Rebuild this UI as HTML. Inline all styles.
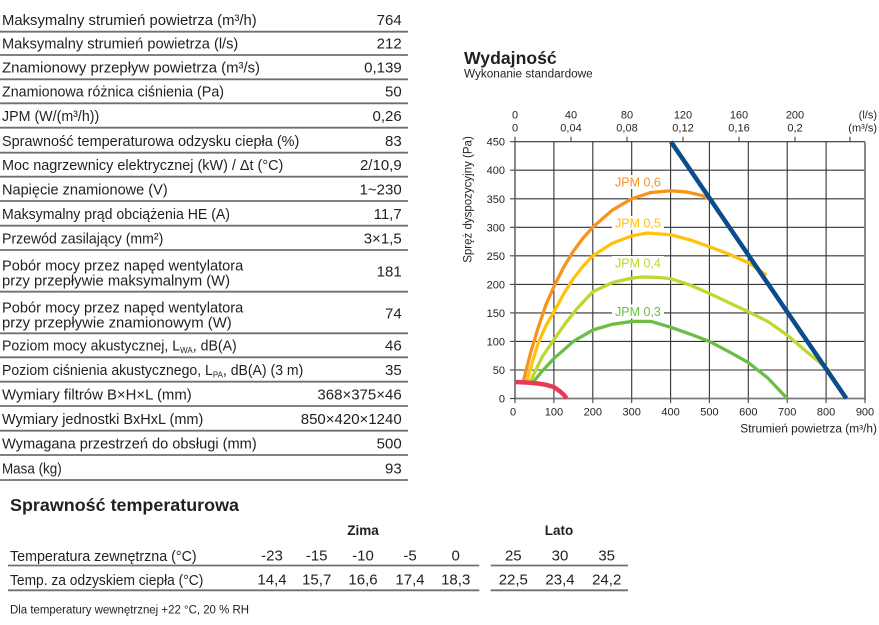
<!DOCTYPE html>
<html>
<head>
<meta charset="utf-8">
<style>
html,body{margin:0;padding:0;background:#fff;}
body{width:879px;height:625px;overflow:hidden;}
svg{display:block;}
text{font-family:"Liberation Sans",Arial,sans-serif;fill:#231f20;}
</style>
</head>
<body>
<svg width="879" height="625" viewBox="0 0 879 625" xmlns="http://www.w3.org/2000/svg">
<rect width="879" height="625" fill="#fff"/>

<!-- ===== TOP TABLE ===== -->
<g stroke="#707070" stroke-width="1.8">
<line x1="0" y1="31.7" x2="408" y2="31.7"/>
<line x1="0" y1="55" x2="408" y2="55"/>
<line x1="0" y1="79.3" x2="408" y2="79.3"/>
<line x1="0" y1="103.3" x2="408" y2="103.3"/>
<line x1="0" y1="127.7" x2="408" y2="127.7"/>
<line x1="0" y1="152.7" x2="408" y2="152.7"/>
<line x1="0" y1="176.7" x2="408" y2="176.7"/>
<line x1="0" y1="201" x2="408" y2="201"/>
<line x1="0" y1="225.7" x2="408" y2="225.7"/>
<line x1="0" y1="250" x2="408" y2="250"/>
<line x1="0" y1="291.7" x2="408" y2="291.7"/>
<line x1="0" y1="333.3" x2="408" y2="333.3"/>
<line x1="0" y1="357.3" x2="408" y2="357.3"/>
<line x1="0" y1="381.7" x2="408" y2="381.7"/>
<line x1="0" y1="406" x2="408" y2="406"/>
<line x1="0" y1="430.7" x2="408" y2="430.7"/>
<line x1="0" y1="455" x2="408" y2="455"/>
<line x1="0" y1="480" x2="408" y2="480"/>
</g>
<g font-size="15">
<text x="2" y="25" textLength="254.7" lengthAdjust="spacingAndGlyphs">Maksymalny strumień powietrza (m³/h)</text>
<text x="2" y="48.5" textLength="236.3" lengthAdjust="spacingAndGlyphs">Maksymalny strumień powietrza (l/s)</text>
<text x="2" y="72.6" textLength="258" lengthAdjust="spacingAndGlyphs">Znamionowy przepływ powietrza (m³/s)</text>
<text x="2" y="96.6" textLength="222" lengthAdjust="spacingAndGlyphs">Znamionowa różnica ciśnienia (Pa)</text>
<text x="2" y="121" textLength="97.3" lengthAdjust="spacingAndGlyphs">JPM (W/(m³/h))</text>
<text x="2" y="146" textLength="297.3" lengthAdjust="spacingAndGlyphs">Sprawność temperaturowa odzysku ciepła (%)</text>
<text x="2" y="170" textLength="281.3" lengthAdjust="spacingAndGlyphs">Moc nagrzewnicy elektrycznej (kW) / Δt (°C)</text>
<text x="2" y="194.3" textLength="165.7" lengthAdjust="spacingAndGlyphs">Napięcie znamionowe (V)</text>
<text x="2" y="219" textLength="228" lengthAdjust="spacingAndGlyphs">Maksymalny prąd obciążenia HE (A)</text>
<text x="2" y="243.3" textLength="161.3" lengthAdjust="spacingAndGlyphs">Przewód zasilający (mm²)</text>
<text x="2" y="270.7" textLength="241.3" lengthAdjust="spacingAndGlyphs">Pobór mocy przez napęd wentylatora</text>
<text x="2" y="285.7" textLength="228" lengthAdjust="spacingAndGlyphs">przy przepływie maksymalnym (W)</text>
<text x="2" y="312.4" textLength="241.3" lengthAdjust="spacingAndGlyphs">Pobór mocy przez napęd wentylatora</text>
<text x="2" y="327.4" textLength="229.7" lengthAdjust="spacingAndGlyphs">przy przepływie znamionowym (W)</text>
<text x="2" y="350.6" textLength="234.7" lengthAdjust="spacingAndGlyphs">Poziom mocy akustycznej, L<tspan font-size="8.5" dy="2.5">WA</tspan><tspan dy="-2.5">, dB(A)</tspan></text>
<text x="2" y="375" textLength="301.3" lengthAdjust="spacingAndGlyphs">Poziom ciśnienia akustycznego, L<tspan font-size="8.5" dy="2.5">PA</tspan><tspan dy="-2.5">, dB(A) (3 m)</tspan></text>
<text x="2" y="399.3" textLength="189.7" lengthAdjust="spacingAndGlyphs">Wymiary filtrów B×H×L (mm)</text>
<text x="2" y="424" textLength="201.3" lengthAdjust="spacingAndGlyphs">Wymiary jednostki BxHxL (mm)</text>
<text x="2" y="448.3" textLength="254.7" lengthAdjust="spacingAndGlyphs">Wymagana przestrzeń do obsługi (mm)</text>
<text x="2" y="473.3" textLength="59.7" lengthAdjust="spacingAndGlyphs">Masa (kg)</text>
</g>
<g font-size="15" text-anchor="end">
<text x="401.7" y="25">764</text>
<text x="401.7" y="48.5">212</text>
<text x="401.7" y="72.6">0,139</text>
<text x="401.7" y="96.6">50</text>
<text x="401.7" y="121">0,26</text>
<text x="401.7" y="146">83</text>
<text x="401.7" y="170">2/10,9</text>
<text x="401.7" y="194.3">1~230</text>
<text x="401.7" y="219">11,7</text>
<text x="401.7" y="243.3">3×1,5</text>
<text x="401.7" y="276.7">181</text>
<text x="401.7" y="318.4">74</text>
<text x="401.7" y="350.6">46</text>
<text x="401.7" y="375">35</text>
<text x="401.7" y="399.3">368×375×46</text>
<text x="401.7" y="424">850×420×1240</text>
<text x="401.7" y="448.3">500</text>
<text x="401.7" y="473.3">93</text>
</g>

<!-- ===== CHART HEADER ===== -->
<text x="464" y="64" font-size="17.5" font-weight="bold" textLength="92.7" lengthAdjust="spacingAndGlyphs">Wydajność</text>
<text x="464" y="77.3" font-size="11.5" textLength="128.7" lengthAdjust="spacingAndGlyphs">Wykonanie standardowe</text>

<!-- ===== CHART GRID ===== -->
<g stroke="#333" stroke-width="1.1">
<line x1="553.9" y1="141.7" x2="553.9" y2="398.5"/>
<line x1="592.8" y1="141.7" x2="592.8" y2="398.5"/>
<line x1="631.7" y1="141.7" x2="631.7" y2="398.5"/>
<line x1="670.6" y1="141.7" x2="670.6" y2="398.5"/>
<line x1="709.4" y1="141.7" x2="709.4" y2="398.5"/>
<line x1="748.3" y1="141.7" x2="748.3" y2="398.5"/>
<line x1="787.2" y1="141.7" x2="787.2" y2="398.5"/>
<line x1="826.1" y1="141.7" x2="826.1" y2="398.5"/>
<line x1="515" y1="370" x2="865" y2="370"/>
<line x1="515" y1="341.4" x2="865" y2="341.4"/>
<line x1="515" y1="312.9" x2="865" y2="312.9"/>
<line x1="515" y1="284.4" x2="865" y2="284.4"/>
<line x1="515" y1="255.8" x2="865" y2="255.8"/>
<line x1="515" y1="227.3" x2="865" y2="227.3"/>
<line x1="515" y1="198.8" x2="865" y2="198.8"/>
<line x1="515" y1="170.2" x2="865" y2="170.2"/>
<line x1="515" y1="141.7" x2="865" y2="141.7"/>
</g>
<!-- frame -->
<g stroke="#7a7a7a" stroke-width="1.8">
<line x1="515" y1="140.8" x2="515" y2="399.4"/>
<line x1="514" y1="398.5" x2="866" y2="398.5"/>
<line x1="865" y1="141.7" x2="865" y2="399.4"/>
</g>
<!-- ticks -->
<g stroke="#444" stroke-width="1.1">
<line x1="510" y1="398.5" x2="515" y2="398.5"/>
<line x1="510" y1="370" x2="515" y2="370"/>
<line x1="510" y1="341.4" x2="515" y2="341.4"/>
<line x1="510" y1="312.9" x2="515" y2="312.9"/>
<line x1="510" y1="284.4" x2="515" y2="284.4"/>
<line x1="510" y1="255.8" x2="515" y2="255.8"/>
<line x1="510" y1="227.3" x2="515" y2="227.3"/>
<line x1="510" y1="198.8" x2="515" y2="198.8"/>
<line x1="510" y1="170.2" x2="515" y2="170.2"/>
<line x1="510" y1="141.7" x2="515" y2="141.7"/>
<line x1="515" y1="398.5" x2="515" y2="403"/>
<line x1="553.9" y1="398.5" x2="553.9" y2="403"/>
<line x1="592.8" y1="398.5" x2="592.8" y2="403"/>
<line x1="631.7" y1="398.5" x2="631.7" y2="403"/>
<line x1="670.6" y1="398.5" x2="670.6" y2="403"/>
<line x1="709.4" y1="398.5" x2="709.4" y2="403"/>
<line x1="748.3" y1="398.5" x2="748.3" y2="403"/>
<line x1="787.2" y1="398.5" x2="787.2" y2="403"/>
<line x1="826.1" y1="398.5" x2="826.1" y2="403"/>
<line x1="865" y1="398.5" x2="865" y2="403"/>
<line x1="515" y1="136.7" x2="515" y2="141.7"/>
<line x1="571" y1="136.7" x2="571" y2="141.7"/>
<line x1="627" y1="136.7" x2="627" y2="141.7"/>
<line x1="683" y1="136.7" x2="683" y2="141.7"/>
<line x1="739" y1="136.7" x2="739" y2="141.7"/>
<line x1="795" y1="136.7" x2="795" y2="141.7"/>
<line x1="850" y1="136.7" x2="850" y2="141.7"/>
</g>

<!-- y labels -->
<g font-size="11" text-anchor="end">
<text x="505" y="402.5">0</text>
<text x="505" y="374">50</text>
<text x="505" y="345.4">100</text>
<text x="505" y="316.9">150</text>
<text x="505" y="288.4">200</text>
<text x="505" y="259.8">250</text>
<text x="505" y="231.3">300</text>
<text x="505" y="202.8">350</text>
<text x="505" y="174.2">400</text>
<text x="505" y="145.7">450</text>
</g>
<!-- x labels -->
<g font-size="11" text-anchor="middle">
<text x="513" y="415.5">0</text>
<text x="553.9" y="415.5">100</text>
<text x="592.8" y="415.5">200</text>
<text x="631.7" y="415.5">300</text>
<text x="670.6" y="415.5">400</text>
<text x="709.4" y="415.5">500</text>
<text x="748.3" y="415.5">600</text>
<text x="787.2" y="415.5">700</text>
<text x="826.1" y="415.5">800</text>
<text x="865" y="415.5">900</text>
</g>
<!-- top labels -->
<g font-size="11" text-anchor="middle">
<text x="515" y="118.5">0</text>
<text x="571" y="118.5">40</text>
<text x="627" y="118.5">80</text>
<text x="683" y="118.5">120</text>
<text x="739" y="118.5">160</text>
<text x="795" y="118.5">200</text>
<text x="515" y="131.5">0</text>
<text x="571" y="131.5">0,04</text>
<text x="627" y="131.5">0,08</text>
<text x="683" y="131.5">0,12</text>
<text x="739" y="131.5">0,16</text>
<text x="795" y="131.5">0,2</text>
</g>
<g font-size="11" text-anchor="end">
<text x="877" y="118.5">(l/s)</text>
<text x="877" y="131.5">(m³/s)</text>
</g>
<text x="877" y="432.3" font-size="11.5" text-anchor="end" textLength="136.7" lengthAdjust="spacingAndGlyphs">Strumień powietrza (m³/h)</text>
<text transform="translate(471.5,199.5) rotate(-90)" font-size="11.5" text-anchor="middle">Spręż dyspozycyjny (Pa)</text>

<!-- label backgrounds -->
<g fill="#fff">
<rect x="612" y="175" width="52" height="14"/>
<rect x="612" y="216" width="52" height="14"/>
<rect x="612" y="256" width="52" height="14"/>
<rect x="612" y="304.5" width="52" height="14"/>
</g>

<!-- curves -->
<g transform="translate(515,398.5) scale(0.38889,-0.57067)" fill="none" stroke-linejoin="round">
<polyline vector-effect="non-scaling-stroke" stroke="#f7941d" stroke-width="3.3" points="21,29 40,80 60,125 80,165 100,196 125,230 150,258 175,281 200,300 250,330 300,350 350,361 400,364 440,362 480,356 510,346"/>
<polyline vector-effect="non-scaling-stroke" stroke="#ffc20e" stroke-width="3.3" points="30,29 45,65 60,98 80,128 100,152 125,183 150,210 175,232 200,250 250,272 300,285 340,290 400,287 450,278 500,266 550,253 600,238 647,216"/>
<polyline vector-effect="non-scaling-stroke" stroke="#bfd730" stroke-width="3.3" points="39,29 50,45 70,73 100,103 130,132 160,158 200,187 250,203 300,211 330,213 370,212 400,210 450,199 500,184 550,168 600,152 650,135 700,111 750,82 810,48"/>
<polyline vector-effect="non-scaling-stroke" stroke="#6cbd45" stroke-width="3.3" points="47,29 70,48 100,70 150,100 200,120 250,130 300,135 350,135 400,125 450,113 500,100 550,82 600,63 650,36 700,0"/>
<polyline vector-effect="non-scaling-stroke" stroke="#e8395a" stroke-width="4.5" points="0,29 30,28 56,26.5 80,24 100,20 115,13 125,7 133,0"/>
<line vector-effect="non-scaling-stroke" stroke="#0b4d8c" stroke-width="4.5" x1="401" y1="450" x2="852" y2="0"/>
</g>

<!-- JPM labels -->
<g font-size="12.5">
<text x="615" y="186.7" style="fill:#f7941d">JPM 0,6</text>
<text x="615" y="227.7" style="fill:#ffc20e">JPM 0,5</text>
<text x="615" y="267.7" style="fill:#bfd730">JPM 0,4</text>
<text x="615" y="316" style="fill:#6cbd45">JPM 0,3</text>
</g>

<!-- ===== BOTTOM SECTION ===== -->
<text x="10" y="511" font-size="17.5" font-weight="bold" textLength="229" lengthAdjust="spacingAndGlyphs">Sprawność temperaturowa</text>
<g font-size="13.5" font-weight="bold" text-anchor="middle">
<text x="363" y="535">Zima</text>
<text x="559" y="535">Lato</text>
</g>
<text x="10" y="561" font-size="15" textLength="186.7" lengthAdjust="spacingAndGlyphs">Temperatura zewnętrzna (°C)</text>
<text x="10" y="585" font-size="15" textLength="193.3" lengthAdjust="spacingAndGlyphs">Temp. za odzyskiem ciepła (°C)</text>
<g font-size="15" text-anchor="middle">
<text x="272" y="560.5">-23</text>
<text x="316.7" y="560.5">-15</text>
<text x="363" y="560.5">-10</text>
<text x="410" y="560.5">-5</text>
<text x="455.7" y="560.5">0</text>
<text x="513.3" y="560.5">25</text>
<text x="560" y="560.5">30</text>
<text x="606.7" y="560.5">35</text>
<text x="272" y="584.5">14,4</text>
<text x="316.7" y="584.5">15,7</text>
<text x="363" y="584.5">16,6</text>
<text x="410" y="584.5">17,4</text>
<text x="455.7" y="584.5">18,3</text>
<text x="513.3" y="584.5">22,5</text>
<text x="560" y="584.5">23,4</text>
<text x="606.7" y="584.5">24,2</text>
</g>
<g stroke="#707070" stroke-width="1.8">
<line x1="8" y1="565.5" x2="479.3" y2="565.5"/>
<line x1="490.7" y1="565.5" x2="628" y2="565.5"/>
<line x1="8" y1="590.3" x2="479.3" y2="590.3"/>
<line x1="490.7" y1="590.3" x2="628" y2="590.3"/>
</g>
<text x="10" y="613.3" font-size="11.5" textLength="239" lengthAdjust="spacingAndGlyphs">Dla temperatury wewnętrznej +22 °C, 20 % RH</text>
</svg>
</body>
</html>
